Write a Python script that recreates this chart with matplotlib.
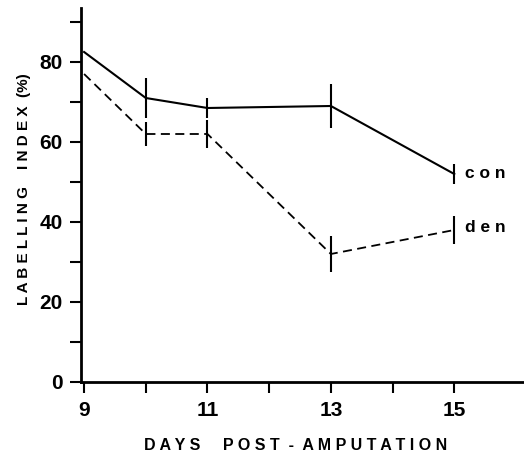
import numpy as np
from matplotlib import pyplot as plt

days = [9, 10, 11, 13, 15]
con = [82.5, 71, 68.5, 69, 52]
con_err = [0, 5, 2.5, 5.5, 2.5]
den = [77, 62, 62, 32, 38]
den_err = [0, 3, 3.5, 4.5, 3.5]

plt.rcParams['font.family'] = ['Liberation Sans', 'DejaVu Sans']
plt.rcParams['font.weight'] = 'bold'

fig = plt.figure(figsize=(5.24, 4.65), dpi=100)
ax = fig.add_axes([0.1546, 0.1785, 0.8454, 0.8043])

ax.errorbar(days, con, yerr=con_err, color='black', lw=1.5, elinewidth=1.5, capsize=0, ls='-')
ax.errorbar(days, den, yerr=den_err, color='black', lw=1.3, elinewidth=1.5, capsize=0, ls=(0, (5, 3)))

ax.text(15.17, con[-1], 'c o n', fontsize=12.5, fontweight='bold', va='center', ha='left')
ax.text(15.17, den[-1] + 0.5, 'd e n', fontsize=12.5, fontweight='bold', va='center', ha='left')

ax.set_xlim(8.95, 16.13)
ax.set_ylim(0, 93.5)
ax.set_xticks(np.arange(9, 16))
ax.set_xticklabels(['9', '', '11', '', '13', '', '15'])
ax.set_yticks(np.arange(0, 91, 10))
ax.set_yticklabels(['0', '', '20', '', '40', '', '60', '', '80', ''])

for s in ['top', 'right']:
    ax.spines[s].set_visible(False)
for s in ['left', 'bottom']:
    ax.spines[s].set_linewidth(2)

ax.tick_params(axis='y', length=8, width=1.5, labelsize=15, pad=5)
ax.tick_params(axis='x', length=8, width=1.5, labelsize=15, pad=6)

ax.set_ylabel('L A B E L L I N G    I N D E X  (%)', fontsize=11, fontweight='bold')
ax.yaxis.set_label_coords(-0.113, 0.515)
fig.text(0.565, 0.043, 'D A Y S     P O S T  -  A M P U T A T I O N', fontsize=11.5,
         fontweight='bold', ha='center', va='center')

plt.savefig('out.png', dpi=100)
